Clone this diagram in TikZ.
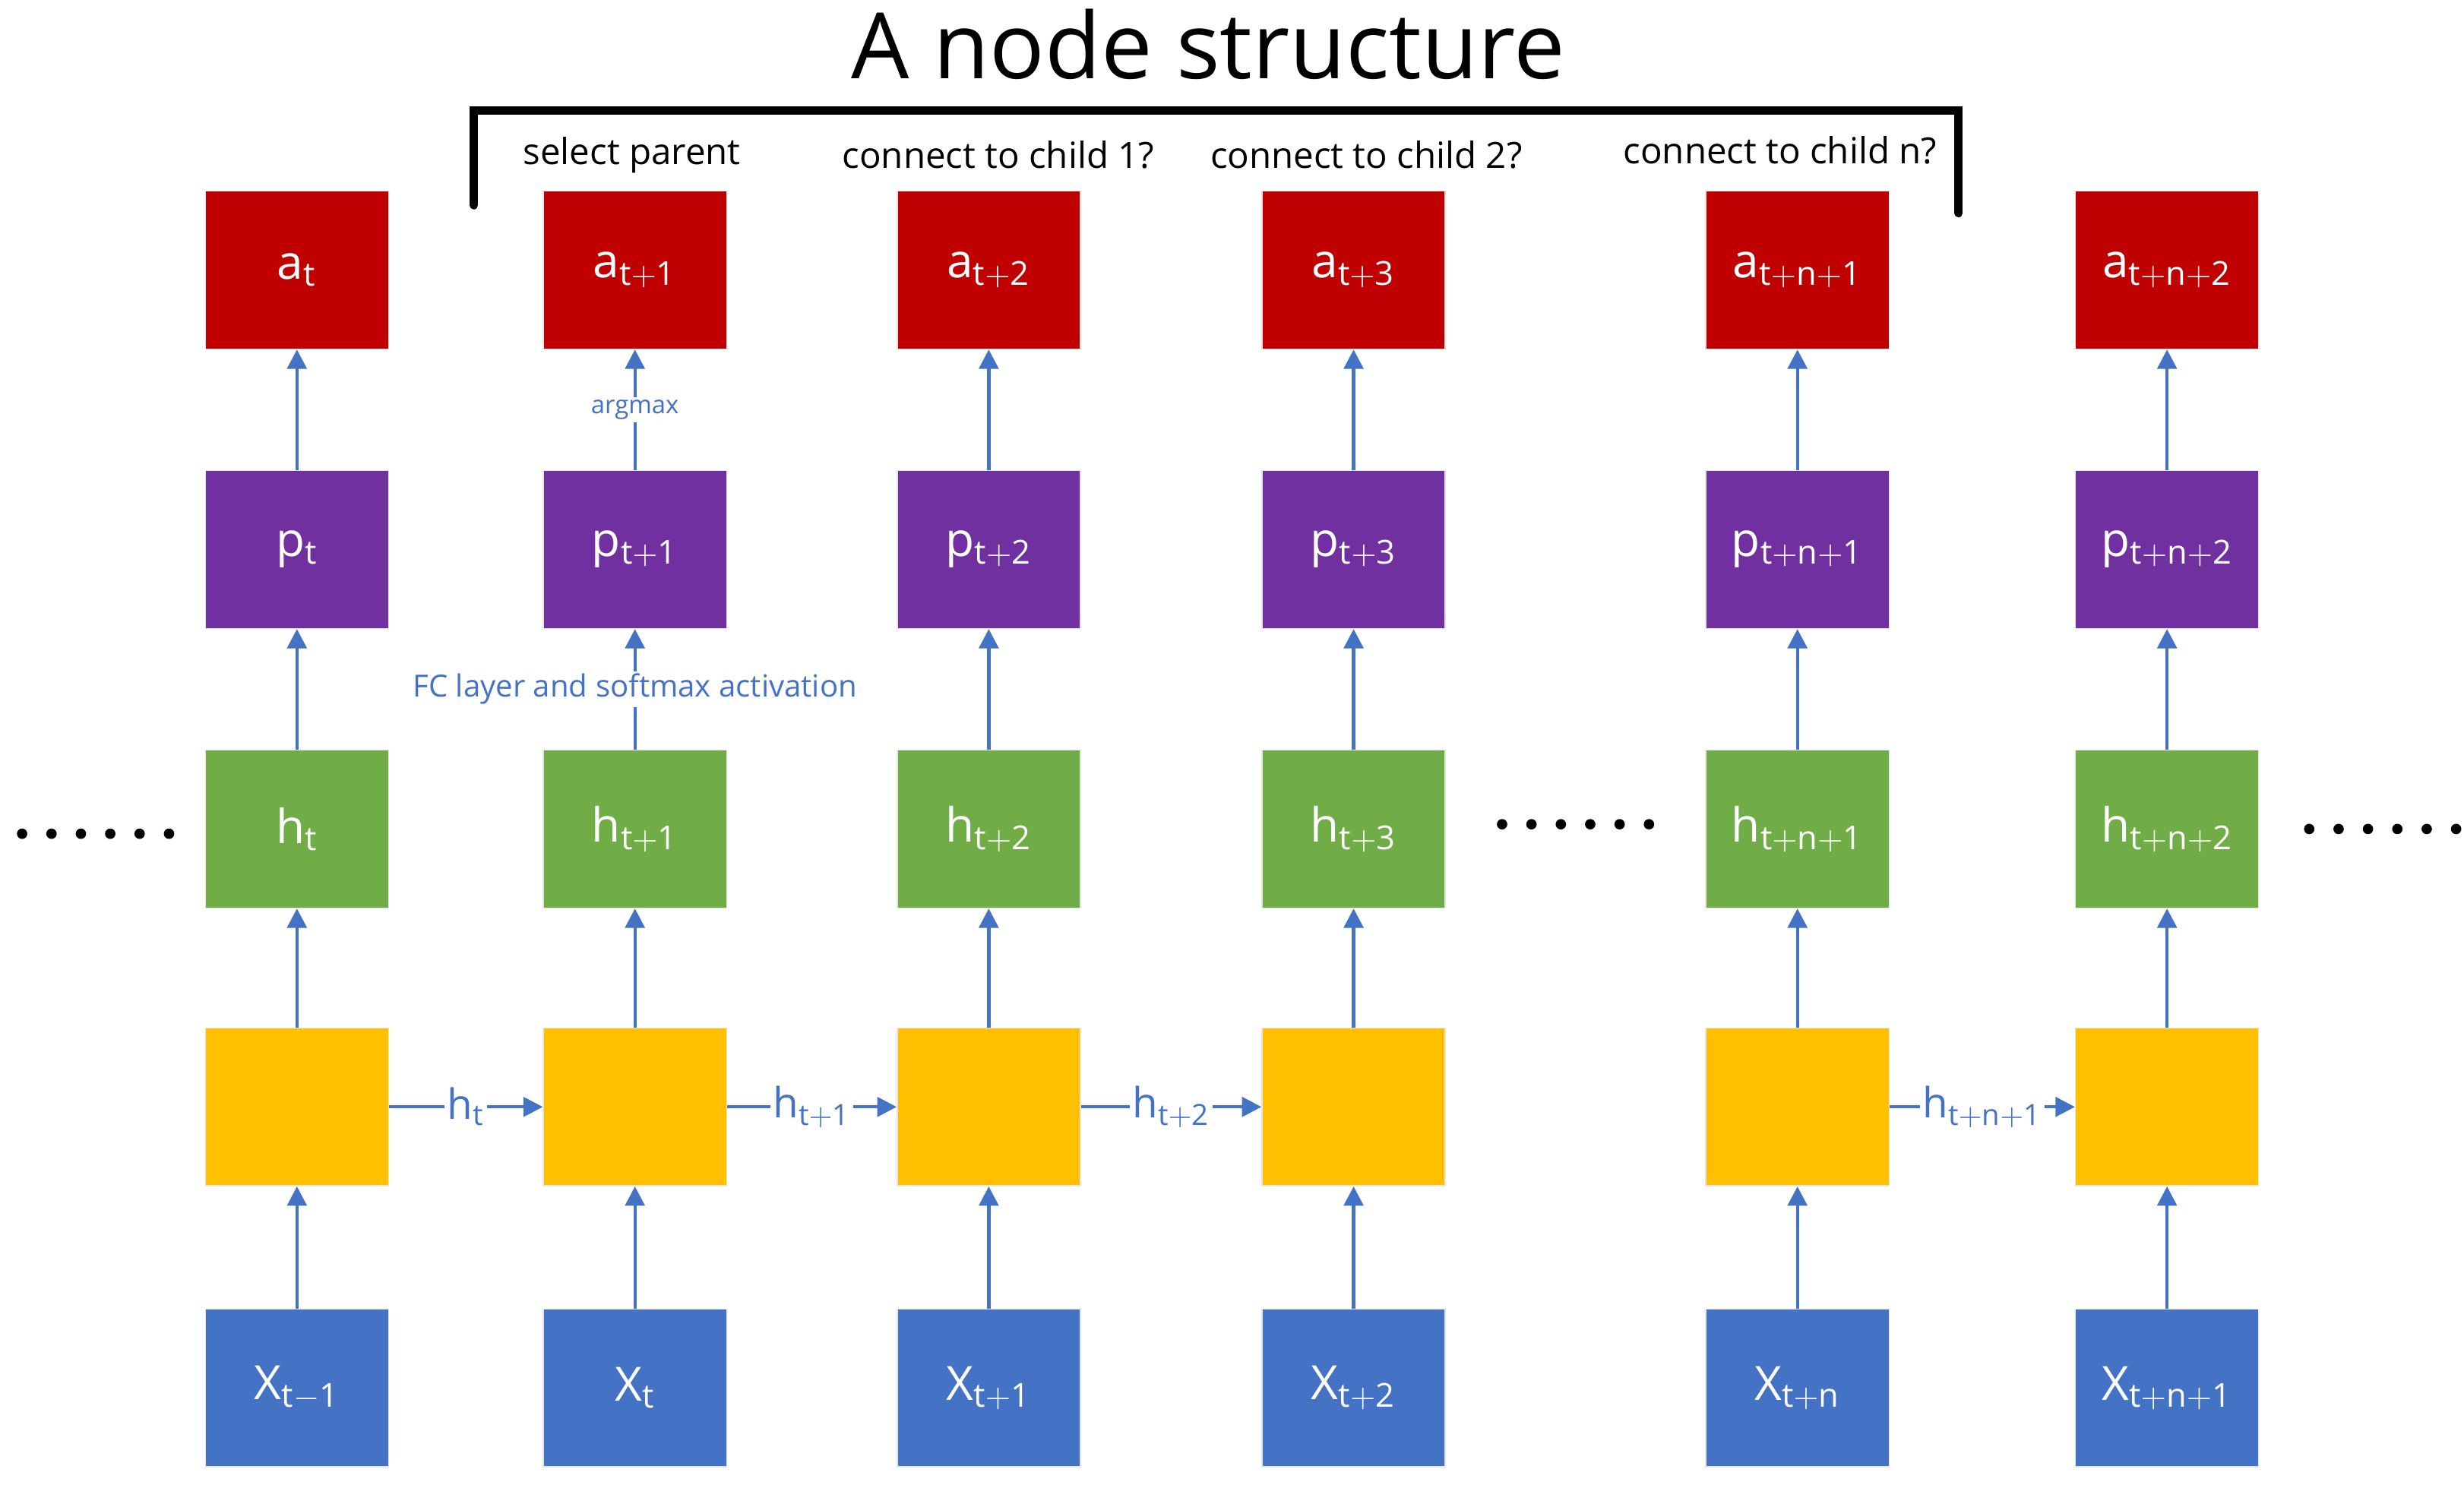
\documentclass[tikz,border=0pt]{standalone}
\usepackage{fontspec}
\setmainfont{Open Sans}
\usetikzlibrary{arrows.meta}
\definecolor{cR}{HTML}{C00000}\definecolor{cP}{HTML}{7030A0}\definecolor{cG}{HTML}{70AD47}
\definecolor{cY}{HTML}{FFC000}\definecolor{cB}{HTML}{4472C4}
\begin{document}
\begin{tikzpicture}[x=0.02cm,y=-0.02cm,
 box/.style={draw=white!80!gray,minimum width=2.32cm,minimum height=2cm,inner sep=0pt,text=white,font=\fontsize{17}{20}\selectfont},
 arr/.style={draw=cB,line width=1.2pt,-{Triangle[length=7pt,width=7pt]}},
 lab/.style={font=\fontsize{13}{16}\selectfont},
 blab/.style={text=cB,fill=white,inner sep=1pt},
 dots/.style={font=\fontsize{30}{30}\selectfont}]
\useasboundingbox (0,0) rectangle (1560,942);
\node[font=\fontsize{33}{38}\selectfont] (title) at (765,28) {A node structure};
\draw[line width=3pt,line cap=round] (300,130) -- (300,70) -- (1240,70) -- (1240,135);
\node[lab] (l1) at (400,98) {select parent};
\node[lab] (l2) at (632,98) {connect to child 1?};
\node[lab] (l3) at (865,98) {connect to child 2?};
\node[lab] (l4) at (1127,95) {connect to child n?};
\foreach \i/\x/\s/\xs in {1/188/t/t-1,2/402/t+1/t,3/626/t+2/t+1,4/857/t+3/t+2,5/1138/t+n+1/t+n,6/1372/t+n+2/t+n+1}{
 \node[box,fill=cR] (a\i) at (\x,171) {a$_{\mathrm{\s}}$};
 \node[box,fill=cP] (p\i) at (\x,348) {p$_{\mathrm{\s}}$};
 \node[box,fill=cG] (h\i) at (\x,525) {h$_{\mathrm{\s}}$};
 \node[box,fill=cY] (y\i) at (\x,701) {};
 \node[box,fill=cB] (x\i) at (\x,879) {X$_{\mathrm{\xs}}$};
 \draw[arr] (x\i) -- (y\i);
 \draw[arr] (y\i) -- (h\i);
}
\foreach \i in {1,3,4,5,6}{\draw[arr] (h\i) -- (p\i); \draw[arr] (p\i) -- (a\i);}
\draw[arr] (h2) -- node[blab,pos=0.5,font=\fontsize{11}{13}\selectfont]{FC layer and softmax activation} (p2);
\draw[arr] (p2) -- node[blab,pos=0.5,font=\fontsize{9}{11}\selectfont]{argmax} (a2);
\draw[arr] (y1) -- node[blab,font=\fontsize{15}{17}\selectfont]{h$_{\mathrm{t}}$} (y2);
\draw[arr] (y2) -- node[blab,font=\fontsize{15}{17}\selectfont]{h$_{\mathrm{t+1}}$} (y3);
\draw[arr] (y3) -- node[blab,font=\fontsize{15}{17}\selectfont]{h$_{\mathrm{t+2}}$} (y4);
\draw[arr] (y5) -- node[blab,font=\fontsize{15}{17}\selectfont]{h$_{\mathrm{t+n+1}}$} (y6);
\foreach \x in {0,...,5}{
 \fill (14+\x*18.6,528) circle (3.3);
 \fill (951+\x*18.6,522) circle (3.3);
 \fill (1462+\x*18.6,525) circle (3.3);}
\end{tikzpicture}
\end{document}
